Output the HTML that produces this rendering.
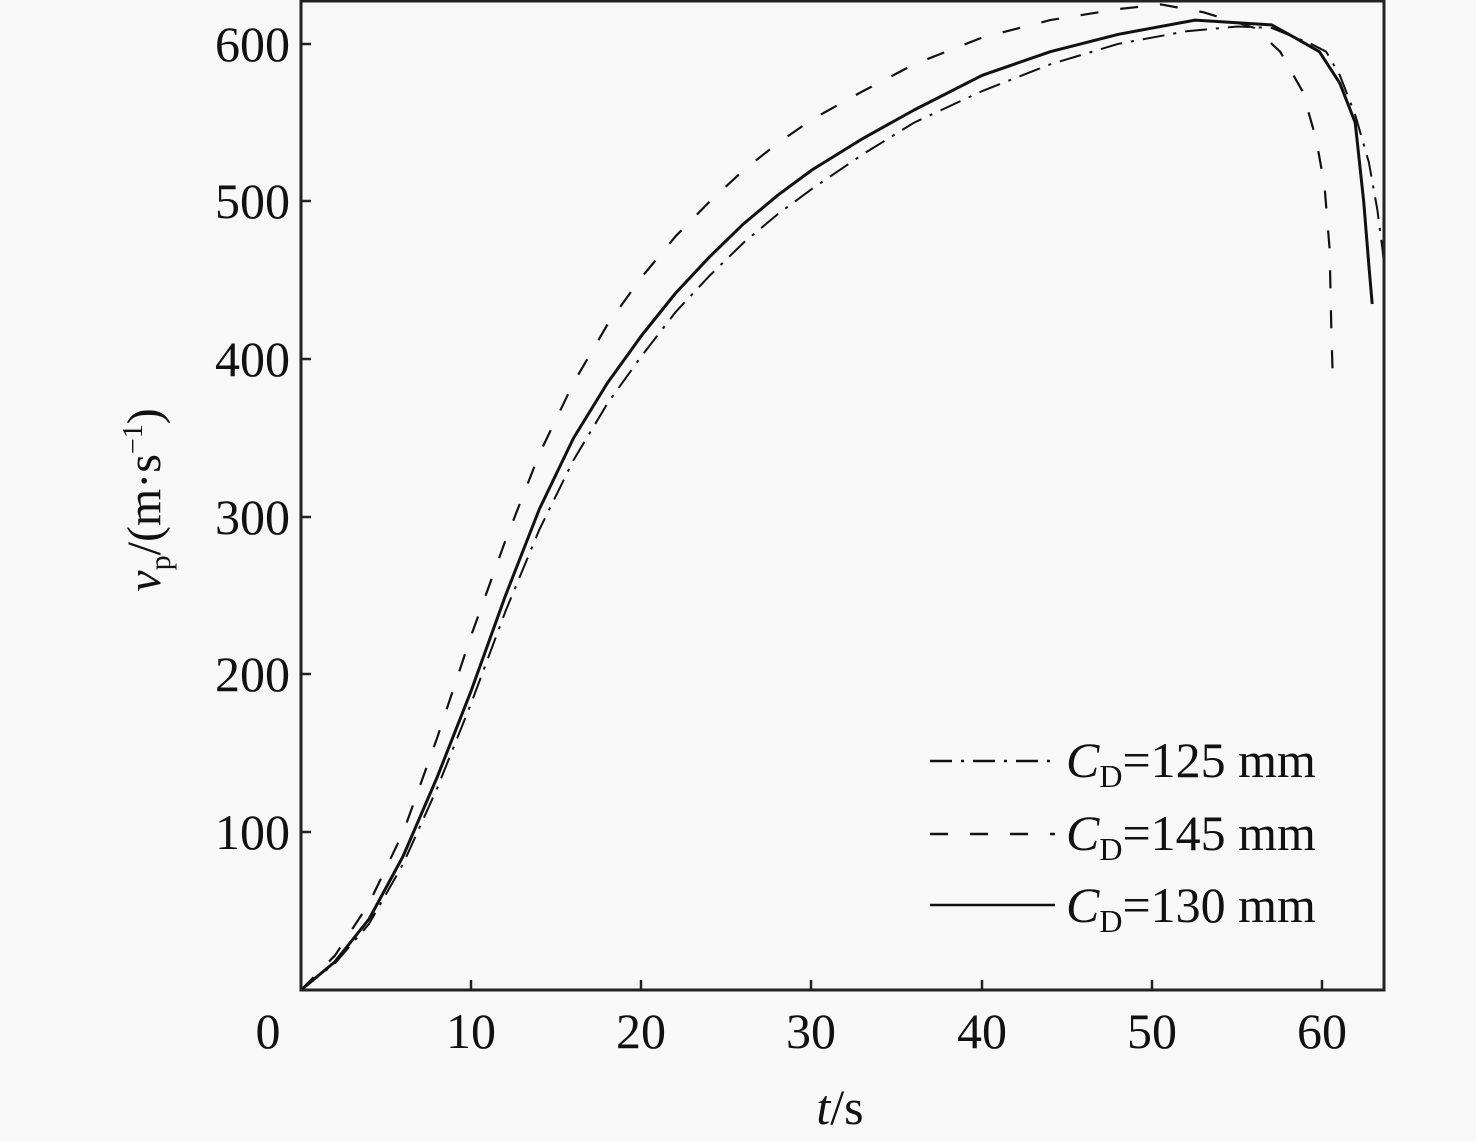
<!DOCTYPE html>
<html><head><meta charset="utf-8"><style>
html,body{margin:0;padding:0;background:#f8f8f8;}
svg{display:block;font-family:"Liberation Serif",serif;}
</style></head><body>
<svg id="s" width="1476" height="1141" viewBox="0 0 1476 1141" xmlns="http://www.w3.org/2000/svg">
<rect width="1476" height="1141" fill="#f8f8f8"/>
<g id="curves" fill="none" stroke="#111"></g>
<rect x="301" y="1" width="1083" height="989" fill="none" stroke="#222" stroke-width="3"/>
<g stroke="#222" stroke-width="2.5">
<line x1="471" y1="990" x2="471" y2="980"/><line x1="641" y1="990" x2="641" y2="980"/>
<line x1="811" y1="990" x2="811" y2="980"/><line x1="982" y1="990" x2="982" y2="980"/>
<line x1="1152" y1="990" x2="1152" y2="980"/><line x1="1322" y1="990" x2="1322" y2="980"/>
<line x1="301" y1="832" x2="311" y2="832"/><line x1="301" y1="674" x2="311" y2="674"/>
<line x1="301" y1="517" x2="311" y2="517"/><line x1="301" y1="359" x2="311" y2="359"/>
<line x1="301" y1="201" x2="311" y2="201"/><line x1="301" y1="44" x2="311" y2="44"/>
</g>
<g font-size="50" fill="#111" text-anchor="middle">
<text x="268" y="1048">0</text><text x="471" y="1048">10</text><text x="641" y="1048">20</text>
<text x="811" y="1048">30</text><text x="982" y="1048">40</text><text x="1152" y="1048">50</text><text x="1322" y="1048">60</text>
</g>
<g font-size="50" fill="#111" text-anchor="end">
<text x="290" y="849">100</text><text x="290" y="691">200</text><text x="290" y="534">300</text>
<text x="290" y="376">400</text><text x="290" y="218">500</text><text x="290" y="61">600</text>
</g>
<text x="840" y="1124" font-size="50" fill="#111" text-anchor="middle"><tspan font-style="italic">t</tspan>/s</text>
<text transform="translate(160,500) rotate(-90)" font-size="48" fill="#111" text-anchor="middle"><tspan font-style="italic">v</tspan><tspan font-size="30" dy="10">p</tspan><tspan dy="-10">/(m·s</tspan><tspan font-size="28" dy="-18">−1</tspan><tspan dy="18">)</tspan></text>
<g stroke="#111" stroke-width="2.5">
<line x1="930" y1="761" x2="1055" y2="761" stroke-dasharray="22,9,3,9"/>
<line x1="930" y1="834" x2="1055" y2="834" stroke-dasharray="18,22"/>
<line x1="930" y1="905" x2="1055" y2="905"/>
</g>
<g font-size="50" fill="#111">
<text x="1066" y="777"><tspan font-style="italic">C</tspan><tspan font-size="32" dy="10">D</tspan><tspan dy="-10">=125 mm</tspan></text>
<text x="1066" y="850"><tspan font-style="italic">C</tspan><tspan font-size="32" dy="10">D</tspan><tspan dy="-10">=145 mm</tspan></text>
<text x="1066" y="922"><tspan font-style="italic">C</tspan><tspan font-size="32" dy="10">D</tspan><tspan dy="-10">=130 mm</tspan></text>
</g>
</svg>
<script>
var X=t=>301+17.03*t,Y=v=>990-1.577*v;
var S=[[0,0],[2,18],[4,45],[6,85],[8,135],[10,190],[12,250],[14,305],[16,350],[18,385],[20,415],[22,442],[24,465],[26,486],[28,504],[30,520],[33,540],[36,558],[40,580],[44,595],[48,606],[52.5,615],[57,612],[58.5,603],[59.8,595],[61,575],[61.9,550],[62.4,500],[62.7,460],[62.9,435]];
var DD=[[0,0],[2,17],[4,42],[6,80],[8,128],[10,182],[12,240],[14,292],[16,336],[18,372],[20,402],[22,430],[24,453],[26,474],[28,492],[30,508],[33,530],[36,550],[40,570],[44,587],[48,600],[52,608],[55,611],[57,610],[59.3,600],[60.2,595],[61,580],[61.9,555],[62.7,525],[63.2,495],[63.5,470],[63.6,460]];
var D=[[0,0],[2,22],[4,55],[6,100],[8,160],[10,225],[12,285],[14,340],[16,385],[18,422],[20,452],[22,478],[24,500],[26,520],[28,537],[30,552],[33,570],[36,587],[40,604],[44,615],[48,622],[50.5,625],[53,620],[56,610],[57.5,595],[58.8,570],[59.6,540],[60.1,510],[60.4,470],[60.5,420],[60.6,383]];
function mk(d,dash,w){var p=document.createElementNS("http://www.w3.org/2000/svg","polyline");
p.setAttribute("points",d.map(a=>X(a[0]).toFixed(1)+","+Y(a[1]).toFixed(1)).join(" "));
p.setAttribute("stroke-width",w);if(dash)p.setAttribute("stroke-dasharray",dash);
p.setAttribute("stroke-linejoin","round");document.getElementById("curves").appendChild(p);}
mk(DD,"22,9,3,9",2);mk(D,"18,22",2.2);mk(S,null,3);
</script>
</body></html>
